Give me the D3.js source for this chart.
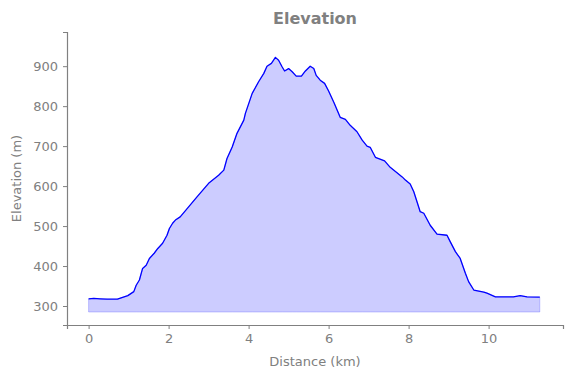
<!DOCTYPE html>
<html>
<head>
<meta charset="utf-8">
<script src="https://cdn.jsdelivr.net/npm/d3@7"></script>
<style>
  body { margin: 0; background: #fff; }
  text { font-family: "DejaVu Sans", sans-serif; fill: #808080; }
</style>
</head>
<body>
<div id="chart"></div>
<script>
// distance along the track (km) and elevation (m)
var distance = [0.0, 0.13, 0.29, 0.46, 0.72, 0.98, 1.13, 1.19, 1.27, 1.35, 1.44, 1.52, 1.64, 1.73, 1.85, 1.96,
  2.02, 2.10, 2.17, 2.29, 2.50, 2.71, 3.00, 3.25, 3.38, 3.46, 3.59, 3.71, 3.88, 3.92, 4.09, 4.25, 4.38,
  4.46, 4.57, 4.67, 4.75, 4.84, 4.90, 5.00, 5.09, 5.19, 5.32, 5.42, 5.54, 5.63, 5.69, 5.79, 5.90, 6.00,
  6.13, 6.29, 6.42, 6.54, 6.71, 6.84, 6.96, 7.04, 7.17, 7.40, 7.54, 7.84, 7.92, 8.04, 8.13, 8.21, 8.29,
  8.38, 8.54, 8.71, 8.96, 9.04, 9.17, 9.29, 9.42, 9.50, 9.63, 9.88, 9.96, 10.17, 10.62, 10.79, 10.96, 11.28];
var elevation = [318, 319, 318, 317, 317, 326, 336, 352, 365, 394, 402, 419, 432, 444, 457, 477,
  494, 507, 515, 523, 548, 573, 607, 627, 640, 669, 698, 732, 765, 782, 832, 861, 882,
  900, 907, 922, 915, 898, 888, 894, 886, 875, 875, 888, 900, 894, 877, 865, 857, 838,
  810, 772, 767, 752, 736, 715, 700, 697, 672, 663, 647, 623, 615, 605, 586, 561, 536,
  532, 502, 480, 477, 461, 436, 419, 382, 361, 340, 335, 332, 323, 323, 326, 323, 322];
var baseElevation = 285;
var xTicks = [0, 2, 4, 6, 8, 10];
var yTicks = [300, 400, 500, 600, 700, 800, 900];

var width = 571, height = 378;
var margin = {top: 32, right: 8, bottom: 53, left: 67};

var svg = d3.select("#chart").append("svg")
    .attr("width", width)
    .attr("height", height);

var x = d3.scaleLinear()
    .domain([-0.54, 11.86])
    .range([margin.left, width - margin.right]);

var y = d3.scaleLinear()
    .domain([252.5, 985.5])
    .range([height - margin.bottom, margin.top]);

var points = distance.map(function(d, i) { return {d: d, e: elevation[i]}; });

// filled area under the profile
var area = d3.area()
    .x(function(p) { return x(p.d); })
    .y0(y(baseElevation))
    .y1(function(p) { return y(p.e); });

svg.append("path")
    .datum(points)
    .attr("d", area)
    .style("fill", "blue")
    .style("fill-opacity", 0.2)
    .style("stroke", "blue")
    .style("stroke-opacity", 0.2)
    .style("stroke-width", 1);

var line = d3.line()
    .x(function(p) { return x(p.d); })
    .y(function(p) { return y(p.e); });

svg.append("path")
    .datum(points)
    .attr("d", line)
    .style("fill", "none")
    .style("stroke", "blue")
    .style("stroke-width", 1.3)
    .style("stroke-linejoin", "round");

// axes, matplotlib look: only left and bottom spines
var xAxis = svg.append("g")
    .attr("transform", "translate(0," + (height - margin.bottom) + ")")
    .call(d3.axisBottom(x).tickValues(xTicks).tickSize(4).tickPadding(5).tickFormat(d3.format("d")));

var yAxis = svg.append("g")
    .attr("transform", "translate(" + margin.left + ",0)")
    .call(d3.axisLeft(y).tickValues(yTicks).tickSize(4).tickPadding(5).tickFormat(d3.format("d")));

[xAxis, yAxis].forEach(function(g) {
  g.select(".domain").style("stroke", "#808080").style("stroke-width", 1.2);
  g.selectAll(".tick line").style("stroke", "#808080").style("stroke-width", 1);
  g.selectAll(".tick text").style("fill", "#808080").style("font-size", "13px")
    .style("font-family", "'DejaVu Sans', sans-serif");
});

svg.append("text")
    .attr("x", (margin.left + width - margin.right) / 2)
    .attr("y", 24)
    .attr("text-anchor", "middle")
    .style("font-size", "16px")
    .style("font-weight", "bold")
    .text("Elevation");

svg.append("text")
    .attr("x", (margin.left + width - margin.right) / 2)
    .attr("y", 366)
    .attr("text-anchor", "middle")
    .style("font-size", "13px")
    .text("Distance (km)");

svg.append("text")
    .attr("transform", "translate(21," + ((margin.top + height - margin.bottom) / 2) + ") rotate(-90)")
    .attr("text-anchor", "middle")
    .style("font-size", "13px")
    .text("Elevation (m)");
</script>
</body>
</html>
